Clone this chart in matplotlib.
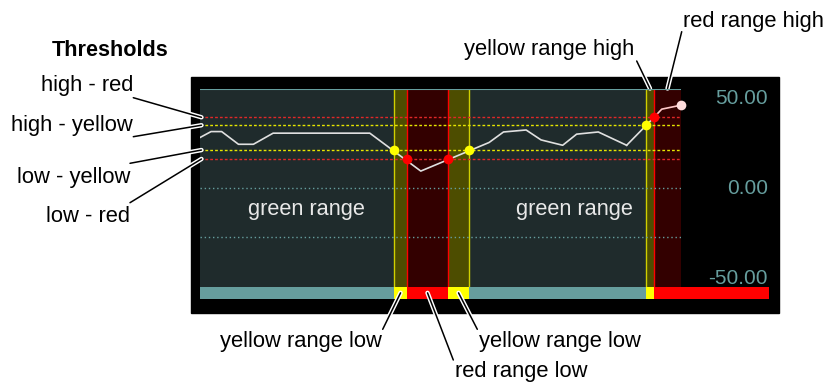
import matplotlib.pyplot as plt
import matplotlib.patheffects as pe
from matplotlib.patches import Rectangle

plt.rcParams['font.family'] = ['Liberation Sans', 'DejaVu Sans']

# datos de la serie
xs = [0, 2.3, 4.5, 8.0, 11.1, 15.2, 35.3, 45.9, 60.1, 63.1, 67.8, 70.9, 75.4, 78.3, 82.8, 88.7, 96.0, 100]
ys = [25.3, 28.3, 28.3, 21.9, 21.9, 27.5, 27.5, 8.4, 22.8, 28.1, 29.1, 24.1, 21.4, 27.0, 28.1, 21.4, 39.6, 41.6]

# umbrales
thr_names = ['high - red', 'high - yellow', 'low - yellow', 'low - red']
thr_values = [35.5, 31.5, 19.0, 14.5]
thr_colors = ['red', 'yellow', 'yellow', 'red']

# cruces de umbral (marcadores)
cross_x = [40.4, 43.0, 51.6, 55.9, 92.7, 94.4]
cross_y = [19.0, 14.5, 14.5, 19.0, 31.5, 35.5]
cross_state = ['yellow', 'red', 'red', 'yellow', 'yellow', 'red']

# rangos
range_edges = [0, 40.4, 43.0, 51.6, 55.9, 92.7, 94.4, 100]
range_state = ['green', 'yellow', 'red', 'yellow', 'green', 'yellow', 'red']
range_labels = ['yellow range low', 'red range low', 'yellow range low',
                'yellow range high', 'red range high']

y_ticks = [50, 0, -50]
grid_values = [0, -25]

W, H = 835, 385
fill = {'green': '#1f2b2c', 'yellow': '#4d4d00', 'red': '#330000'}
edge = {'yellow': '#d0d000', 'red': '#ff0000'}
bar = {'green': '#669e9e', 'yellow': '#ffff00', 'red': '#ff0000'}
dot = {'yellow': '#ffff00', 'red': '#ff0000'}
thr_col = {'red': '#e02828', 'yellow': '#e6e600'}
rank = {'green': 0, 'yellow': 1, 'red': 2}
teal = '#669e9e'


def fx(x):
    return x / W


def fy(y):
    return 1 - y / H


fig = plt.figure(figsize=(W / 100, H / 100), dpi=100)
fig.patches.append(Rectangle((fx(191), fy(312.7)), fx(779 - 191), (312.7 - 76.7) / H,
                             transform=fig.transFigure, color='black', zorder=-1))

ax = fig.add_axes([fx(200), fy(287), fx(481), 198.5 / H])
ax.set_xlim(0, 100)
ax.set_ylim(-50, 50)
ax.set_facecolor(fill['green'])
for s in ax.spines.values():
    s.set_visible(False)
ax.axhline(50, color=teal, lw=1.5, zorder=6)
ax.set_xticks([])
ax.set_yticks([])

# fondos por rango
for i, st in enumerate(range_state):
    if st != 'green':
        ax.axvspan(range_edges[i], range_edges[i + 1], color=fill[st], lw=0, zorder=1)
# bordes entre rangos, con el color del mas severo
for i in range(1, len(range_state)):
    st = max(range_state[i - 1], range_state[i], key=rank.get)
    ax.axvline(range_edges[i], color=edge[st], lw=1, zorder=2)

for g in grid_values:
    ax.axhline(g, color=teal, lw=1, ls=(0, (1, 2)), zorder=2)
for v, c in zip(thr_values, thr_colors):
    ax.axhline(v, color=thr_col[c], lw=1, ls=(0, (2, 1.5)), zorder=3)

ax.plot(xs[:-2], ys[:-2], color='#e0e0e0', lw=1.2, zorder=4)
ax.plot([xs[-3], cross_x[-1]], [ys[-3], cross_y[-1]], color='#e0e0e0', lw=1.2, zorder=4)
ax.plot([cross_x[-1]] + xs[-2:], [cross_y[-1]] + ys[-2:], color='#ffc8c8', lw=1.2, zorder=4)
for x, y, st in zip(cross_x, cross_y, cross_state):
    ax.plot(x, y, 'o', ms=7, color=dot[st], mec='none', zorder=5)
ax.plot(xs[-1], ys[-1], 'o', ms=7, color='#ffdddd', mec='none', zorder=5, clip_on=False)

for xc in [22.2, 77.9]:
    ax.text(xc, -11, 'green range', color='#e8e8e8', fontsize=15.7, ha='center', va='center')

# etiquetas del eje
ytr = ax.get_yaxis_transform()
for t in y_ticks:
    va = 'top' if t == max(y_ticks) else ('bottom' if t == min(y_ticks) else 'center')
    ax.text(1.181, t - 0.5, f'{t:.2f}', transform=ytr, ha='right', va=va,
            color=teal, fontsize=15, fontweight='medium')

# barra inferior
bx = fig.add_axes([fx(200), fy(299), fx(569), 12.3 / H])
xmax = 100 * 569 / 481
bx.set_xlim(0, xmax)
bx.set_ylim(0, 1)
bx.axis('off')
for i, st in enumerate(range_state):
    b = range_edges[i + 1] if i < len(range_state) - 1 else xmax
    bx.axvspan(range_edges[i], b, color=bar[st], lw=0)

stroke = [pe.withStroke(linewidth=3.2, foreground='white')]
arrow = dict(arrowstyle='-', shrinkA=0, shrinkB=0, lw=1.1, color='black', path_effects=stroke)

# anotaciones de umbrales
fig.text(fx(110), fy(51), 'Thresholds', fontsize=15.6, fontweight='bold', ha='center', va='center')
thr_text = [(133, 85), (133, 125), (130, 177), (129.5, 217)]
thr_line = [(133.3, 97.7), (133.3, 136.7), (130, 163.3), (130, 202.7)]
for name, v, (tx, ty), (lx, ly) in zip(thr_names, thr_values, thr_text, thr_line):
    fig.text(fx(tx), fy(ty), name, fontsize=15.8, ha='right', va='center')
    ax.annotate('', xy=(0.3, v), xycoords='data', xytext=(lx, H - ly),
                textcoords='figure pixels', arrowprops=arrow, annotation_clip=False)

# anotaciones de rangos
mids = [(range_edges[i] + range_edges[i + 1]) / 2 for i in [1, 2, 3, 5, 6]]
lab_pos = [(301, 342), (521, 371), (559.5, 342), (549.5, 50), (753, 21)]
lab_line = [(382.7, 329.3), (453.3, 360), (477.3, 329.3), (636.7, 61), (681.7, 31.7)]
for k, (lab, m, (tx, ty), (lx, ly)) in enumerate(zip(range_labels, mids, lab_pos, lab_line)):
    fig.text(fx(tx), fy(ty), lab, fontsize=15.8, ha='center', va='center')
    if k < 3:
        bx.annotate('', xy=(m, 0.5), xycoords='data', xytext=(lx, H - ly),
                    textcoords='figure pixels', arrowprops=arrow, annotation_clip=False)
    else:
        ax.annotate('', xy=(m, 50), xycoords='data', xytext=(lx, H - ly),
                    textcoords='figure pixels', arrowprops=arrow, annotation_clip=False)

fig.savefig('out.png', dpi=100)
